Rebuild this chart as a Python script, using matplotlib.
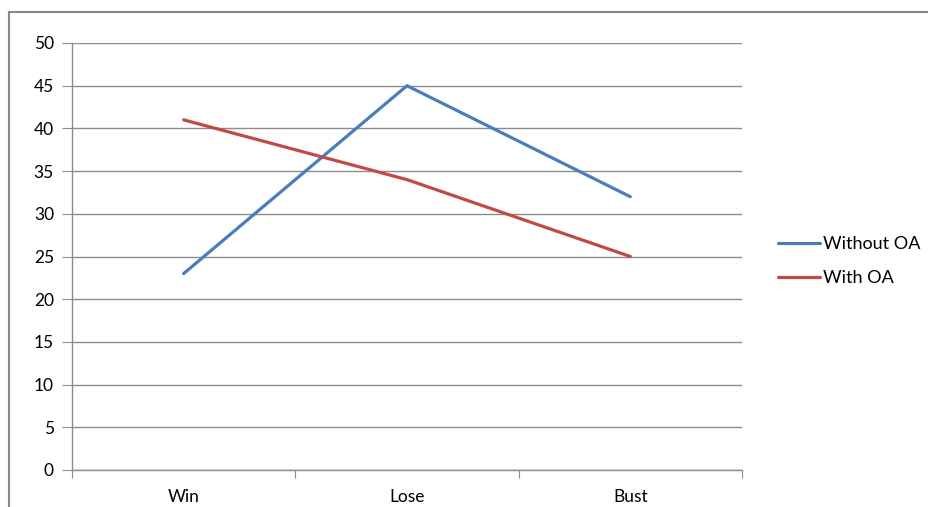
import matplotlib
matplotlib.use('Agg')
import matplotlib.pyplot as plt
from matplotlib.lines import Line2D

# chart data
categories = ['Win', 'Lose', 'Bust']
without_oa = [23, 45, 32]
with_oa = [41, 34, 25]
y_ticks = [0, 5, 10, 15, 20, 25, 30, 35, 40, 45, 50]

plt.rcParams['font.family'] = ['Lato', 'DejaVu Sans']

W, H = 929, 507
fig = plt.figure(figsize=(W / 100, H / 100), dpi=100)
ax = fig.add_axes([72 / W, (H - 470) / H, (742 - 72) / W, (470 - 43) / H])

x = [0.5, 1.5, 2.5]
ax.plot(x, without_oa, color='#4A7EBB', lw=2.3, label='Without OA', solid_capstyle='round')
ax.plot(x, with_oa, color='#BE4B48', lw=2.3, label='With OA', solid_capstyle='round')

ax.set_xlim(0, 3)
ax.set_ylim(0, 50)
ax.set_yticks(y_ticks)
ax.yaxis.grid(True, color='#8c8c8c', lw=1)
ax.set_axisbelow(True)

# category ticks between groups, labels centred
ax.set_xticks([0, 1, 2, 3])
ax.set_xticklabels([])
ax.set_xticks(x, minor=True)
ax.set_xticklabels(categories, minor=True)
ax.tick_params(axis='x', which='major', length=6, color='#8c8c8c', direction='out')
ax.tick_params(axis='x', which='minor', length=0, labelsize=12.5, pad=14, colors='#000000')
ax.tick_params(axis='y', length=7, color='#8c8c8c', labelsize=12.5, pad=6)

for s in ['top', 'right']:
    ax.spines[s].set_visible(False)
for s in ['left', 'bottom']:
    ax.spines[s].set_color('#8c8c8c')
    ax.spines[s].set_linewidth(1)

fig.legend(loc='center left', bbox_to_anchor=(762 / W, 1 - 261 / H), frameon=False,
           fontsize=13, handlelength=2.3, handletextpad=0.2, labelspacing=1.0)

# outer frame (top and left edges visible)
fig.add_artist(Line2D([9 / W, 1], [1 - 12 / H, 1 - 12 / H], transform=fig.transFigure,
                      color='#888888', lw=1.5))
fig.add_artist(Line2D([9 / W, 9 / W], [0, 1 - 12 / H], transform=fig.transFigure,
                      color='#888888', lw=1.5))

fig.savefig('out.png', dpi=100)
